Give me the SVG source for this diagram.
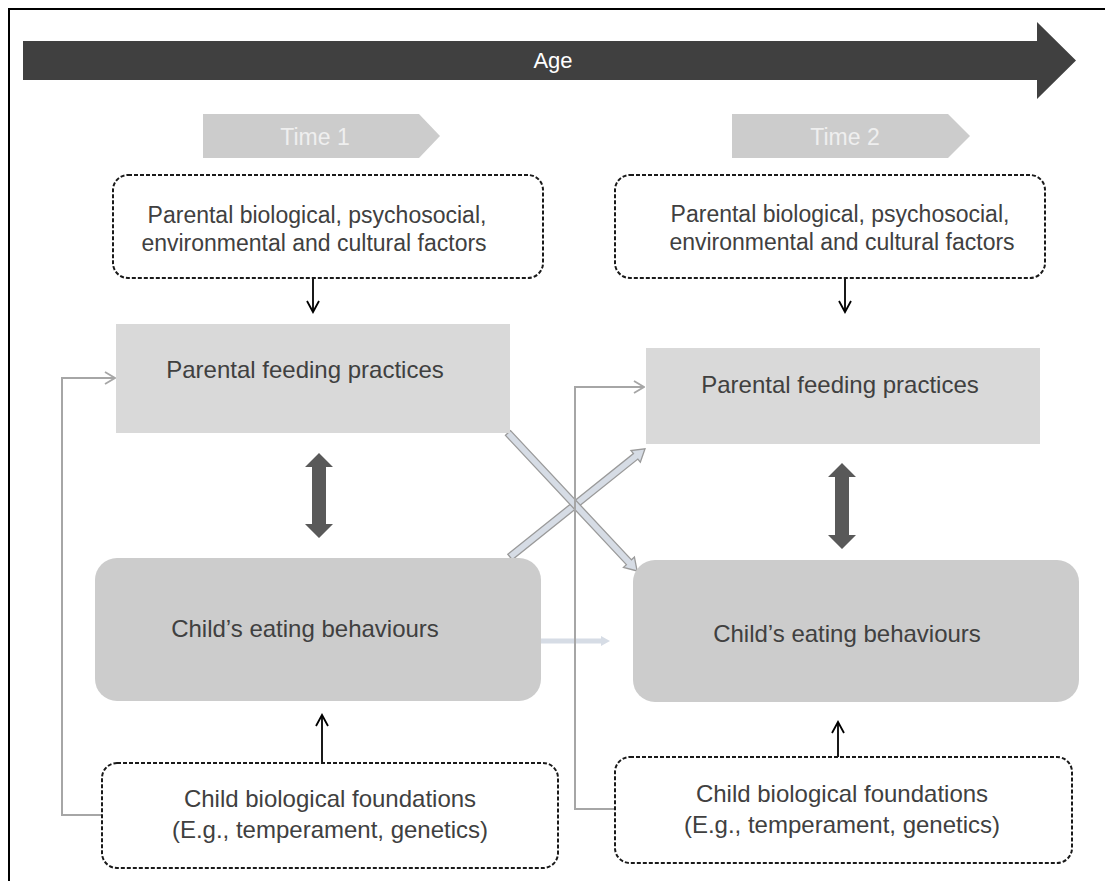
<svg xmlns="http://www.w3.org/2000/svg" width="1105" height="881" viewBox="0 0 1105 881">
<style>
text{font-family:"Liberation Sans",Arial,sans-serif;text-anchor:middle}
.t{font-size:24px;fill:#404040}
.tp{font-size:23px;fill:#404040}
.tt{font-size:23px;fill:#efefef}
.dash{fill:#fff;stroke:#1a1a1a;stroke-width:2;stroke-dasharray:4 2}
.pfp{fill:#d9d9d9}
.ceb{fill:#cccccc}
.fb{fill:none;stroke:#a6a6a6;stroke-width:2}
.blk{fill:none;stroke:#000;stroke-width:1.8}
.cross{fill:#d6dce5;stroke:#9a9a9a;stroke-width:1.3}
.dbl{fill:#595959}
</style>
<defs>
<marker id="gv" markerWidth="12" markerHeight="14" refX="11" refY="7" orient="auto" markerUnits="userSpaceOnUse">
<path d="M1,1 L11,7 L1,13" fill="none" stroke="#a6a6a6" stroke-width="1.8"/>
</marker>
<marker id="bv" markerWidth="14" markerHeight="14" refX="12" refY="7" orient="auto" markerUnits="userSpaceOnUse">
<path d="M1,1 L12,7 L1,13" fill="none" stroke="#000" stroke-width="1.8"/>
</marker>
</defs>
<rect width="1105" height="881" fill="#fff"/>
<path d="M9,881 L9,9 L1105,9" fill="none" stroke="#000" stroke-width="2"/>

<g id="age">
<polygon points="23,41 1037,41 1037,22 1076,60.5 1037,99 1037,80 23,80" fill="#404040"/>
<text x="553" y="68" style="font-size:22px;fill:#fff">Age</text>
</g>

<g id="time1">
<polygon points="203,114 419,114 440,136 419,158 203,158" fill="#cccccc"/>
<text class="tt" x="315" y="145">Time 1</text>
</g>
<g id="time2">
<polygon points="732,114 948,114 970,136 948,158 732,158" fill="#cccccc"/>
<text class="tt" x="845" y="145">Time 2</text>
</g>

<g id="connectors">
<line class="blk" x1="313" y1="278" x2="313" y2="312" marker-end="url(#bv)"/>
<line class="blk" x1="845" y1="278" x2="845" y2="312" marker-end="url(#bv)"/>
<line class="blk" x1="322" y1="763" x2="322" y2="715" marker-end="url(#bv)"/>
<line class="blk" x1="838" y1="757" x2="838" y2="722" marker-end="url(#bv)"/>
<polygon class="dbl" points="319,453 333,467 326,467 326,524 333,524 319,538 305,524 312,524 312,467 305,467"/>
<polygon class="dbl" points="842,463 856,477 849,477 849,535 856,535 842,549 828,535 835,535 835,477 828,477"/>
<polygon class="cross" transform="translate(510,557) rotate(-38.7)" points="0,-3.5 161,-3.5 161,-7.5 173,0 161,7.5 161,3.5 0,3.5"/>
<polygon class="cross" transform="translate(508,433) rotate(46.9)" points="0,-3.5 177,-3.5 177,-7.5 189,0 177,7.5 177,3.5 0,3.5"/>
<polygon points="541,638.5 601,638.5 601,636 610,641 601,646 601,643.5 541,643.5" fill="#d6dce5"/>
<polyline class="fb" points="102,815 62,815 62,378 115,378" marker-end="url(#gv)"/>
<polyline class="fb" points="615,809 575,809 575,387 644,387" marker-end="url(#gv)"/>
</g>

<g id="parent-factors-1">
<rect class="dash" x="113" y="175" width="430" height="103" rx="15"/>
<text class="tp" x="317" y="223">Parental biological, psychosocial,</text>
<text class="tp" x="314" y="251">environmental and cultural factors</text>
</g>
<g id="parent-factors-2">
<rect class="dash" x="615" y="175" width="430" height="103" rx="15"/>
<text class="tp" x="840" y="222">Parental biological, psychosocial,</text>
<text class="tp" x="842" y="250">environmental and cultural factors</text>
</g>

<g id="feeding-1">
<rect class="pfp" x="116" y="324" width="394" height="109"/>
<text class="t" x="305" y="378">Parental feeding practices</text>
</g>
<g id="feeding-2">
<rect class="pfp" x="646" y="348" width="394" height="96"/>
<text class="t" x="840" y="393">Parental feeding practices</text>
</g>

<g id="eating-1">
<rect class="ceb" x="95" y="558" width="446" height="143" rx="22"/>
<text class="t" x="305" y="637">Child’s eating behaviours</text>
</g>
<g id="eating-2">
<rect class="ceb" x="633" y="560" width="446" height="142" rx="22"/>
<text class="t" x="847" y="642">Child’s eating behaviours</text>
</g>

<g id="bio-1">
<rect class="dash" x="102" y="763" width="456" height="105" rx="15"/>
<text class="t" x="330" y="807">Child biological foundations</text>
<text class="t" x="330" y="838">(E.g., temperament, genetics)</text>
</g>
<g id="bio-2">
<rect class="dash" x="615" y="757" width="457" height="106" rx="15"/>
<text class="t" x="842" y="802">Child biological foundations</text>
<text class="t" x="842" y="833">(E.g., temperament, genetics)</text>
</g>
</svg>
